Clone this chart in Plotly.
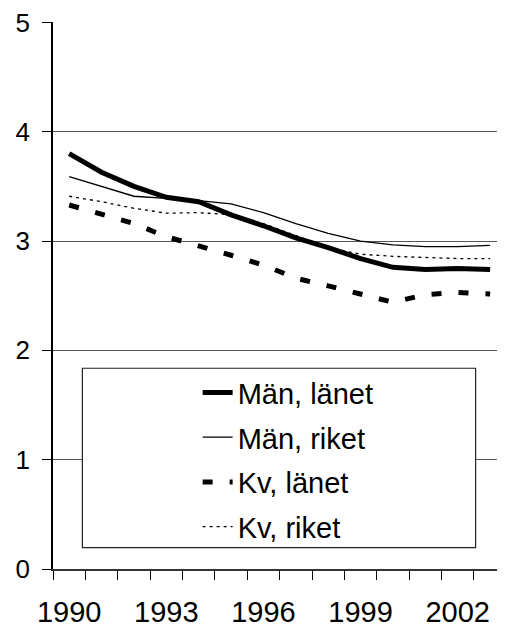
import plotly.graph_objects as go

years = list(range(1990, 2004))
man_lanet = [3.80, 3.63, 3.50, 3.40, 3.36, 3.24, 3.14, 3.03, 2.94, 2.84, 2.76, 2.74, 2.75, 2.74]
man_riket = [3.59, 3.50, 3.41, 3.39, 3.37, 3.34, 3.26, 3.16, 3.07, 3.00, 2.965, 2.95, 2.95, 2.96]
kv_lanet = [3.33, 3.24, 3.16, 3.04, 2.96, 2.87, 2.78, 2.66, 2.59, 2.52, 2.44, 2.51, 2.53, 2.515]
kv_riket = [3.41, 3.36, 3.30, 3.255, 3.26, 3.24, 3.16, 3.05, 2.94, 2.88, 2.86, 2.85, 2.84, 2.84]
label_years = [1990, 1993, 1996, 1999, 2002]
y_ticks = [0, 1, 2, 3, 4, 5]

FONT = "Liberation Sans, Arial, sans-serif"

fig = go.Figure()
series = [
    ("Män, länet", man_lanet, dict(color="black", width=5)),
    ("Män, riket", man_riket, dict(color="black", width=1.3)),
    ("Kv, länet", kv_lanet, dict(color="black", width=5, dash="10px,17px")),
    ("Kv, riket", kv_riket, dict(color="black", width=1.3, dash="3px,4px")),
]
for i, (name, vals, line) in enumerate(series):
    fig.add_trace(go.Scatter(x=years, y=vals, mode="lines", name=name,
                             line=line, legendgroup=f"g{i}"))

minor_vals = [y - 0.5 for y in years] + [years[-1] + 0.5]

fig.update_layout(
    width=497, height=617,
    margin=dict(l=45, r=0, t=14, b=56),
    paper_bgcolor="white", plot_bgcolor="white",
    font=dict(family=FONT, color="black"),
    showlegend=True,
    legend=dict(
        x=0.32, y=0.369, xanchor="left", yanchor="top",
        bgcolor="rgba(0,0,0,0)", borderwidth=0,
        font=dict(size=29, family=FONT),
        tracegroupgap=4,
    ),
    xaxis=dict(
        range=[1989.5, 2003.46],
        tickmode="array", tickvals=label_years,
        ticktext=[str(v) for v in label_years],
        ticks="", showgrid=False, zeroline=False,
        showline=True, linecolor="#333", linewidth=1.5,
        tickfont=dict(size=29, family=FONT),
        ticklabelstandoff=16,
        ticklabeloverflow="allow",
        automargin=False,
        minor=dict(tickmode="array", tickvals=minor_vals, ticks="outside",
                   ticklen=9, tickcolor="black", tickwidth=1, showgrid=False),
    ),
    yaxis=dict(
        range=[0, 5.004],
        tickmode="array", tickvals=y_ticks,
        ticks="outside", ticklen=9, tickcolor="black", tickwidth=1,
        showgrid=True, gridcolor="#555", gridwidth=1,
        zeroline=False, showline=True, linecolor="black", linewidth=1.5,
        tickfont=dict(size=26, family=FONT),
        ticklabelstandoff=7,
        ticklabeloverflow="allow",
        automargin=False,
    ),
    shapes=[dict(type="rect", xref="paper", yref="paper",
                 x0=0.065, x1=0.935, y0=0.039, y1=0.367,
                 line=dict(color="#222", width=1.2), fillcolor="white",
                 layer="above")],
)

fig.write_html("out.html")
